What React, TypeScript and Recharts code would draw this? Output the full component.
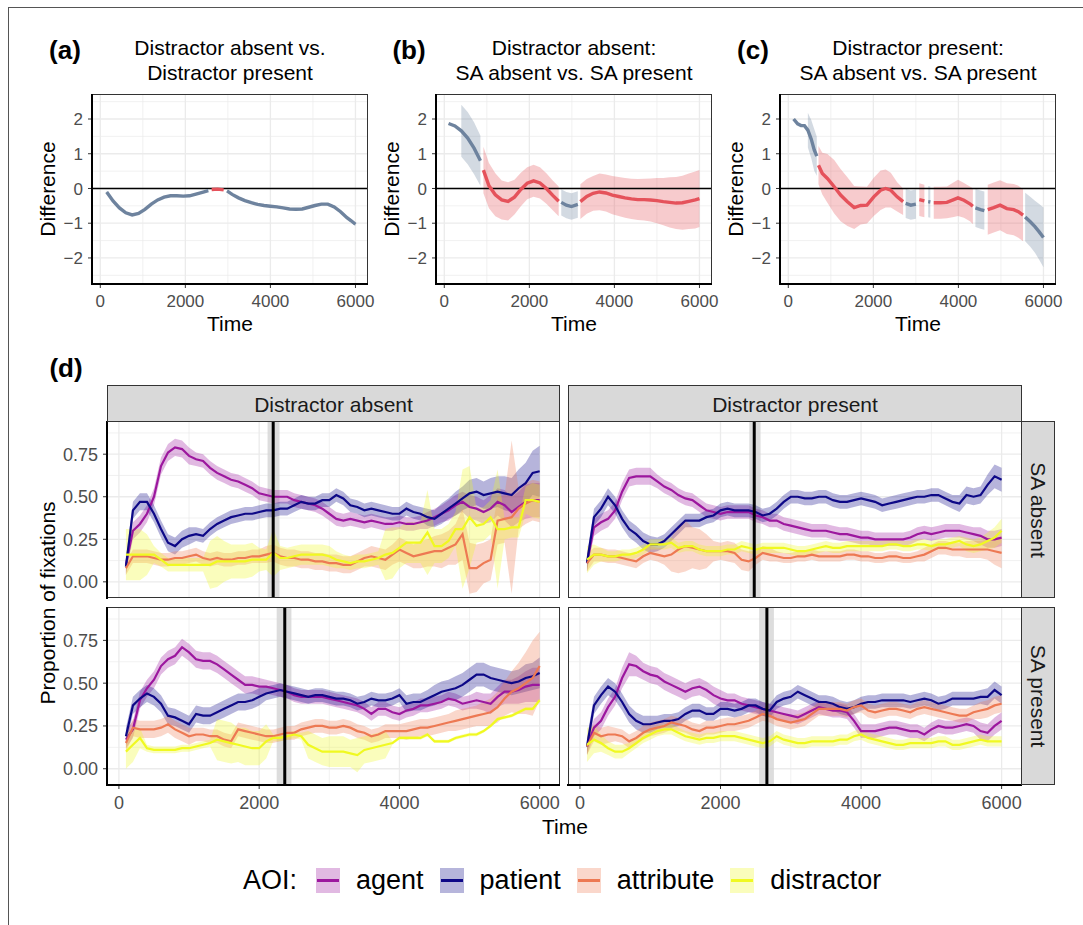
import {
  ComposedChart,
  Line,
  Area,
  XAxis,
  YAxis,
  CartesianGrid,
  ReferenceLine,
  ReferenceArea,
} from "recharts";

const FONT = '"Liberation Sans", Arial, Helvetica, sans-serif';

// ---- panels (a)-(c): smoothed difference curves ----
// sig = 1 where the difference is significant (drawn red)

const aTime = [150, 300, 450, 600, 750, 900, 1050, 1200, 1350, 1500, 1650, 1800, 1950, 2100, 2250, 2400, 2540, 2620, 2760, 2900, 2980, 3100, 3250, 3400, 3550, 3700, 3850, 4000, 4150, 4300, 4450, 4600, 4750, 4900, 5050, 5200, 5350, 5500, 5650, 5800, 5900, 6000];
const aMean = [-0.1, -0.36, -0.56, -0.7, -0.76, -0.72, -0.6, -0.45, -0.33, -0.25, -0.21, -0.21, -0.22, -0.21, -0.16, -0.11, -0.06, -0.03, -0.02, -0.04, -0.07, -0.17, -0.27, -0.35, -0.41, -0.46, -0.49, -0.51, -0.53, -0.56, -0.59, -0.6, -0.59, -0.54, -0.49, -0.45, -0.45, -0.53, -0.67, -0.84, -0.93, -1.03];
const aHalf = [0.04, 0.04, 0.04, 0.03, 0.03, 0.03, 0.03, 0.03, 0.03, 0.03, 0.03, 0.03, 0.03, 0.03, 0.03, 0.03, 0.03, 0.03, 0.03, 0.03, 0.03, 0.03, 0.03, 0.03, 0.03, 0.03, 0.03, 0.03, 0.03, 0.03, 0.03, 0.03, 0.03, 0.03, 0.03, 0.03, 0.03, 0.04, 0.04, 0.04, 0.05, 0.05];
const aSig = [0, 0, 0, 0, 0, 0, 0, 0, 0, 0, 0, 0, 0, 0, 0, 0, 0, 1, 1, 1, 0, 0, 0, 0, 0, 0, 0, 0, 0, 0, 0, 0, 0, 0, 0, 0, 0, 0, 0, 0, 0, 0];

const bTime = [100, 250, 400, 550, 700, 850, 920, 1050, 1200, 1350, 1500, 1650, 1800, 1950, 2100, 2250, 2400, 2550, 2690, 2750, 2870, 2990, 3140, 3200, 3350, 3500, 3650, 3800, 3950, 4100, 4250, 4400, 4550, 4700, 4850, 5000, 5150, 5300, 5450, 5600, 5750, 5900, 6000];
const bMean = [1.87, 1.8, 1.66, 1.45, 1.16, 0.8, 0.53, 0.08, -0.18, -0.33, -0.37, -0.25, -0.03, 0.15, 0.22, 0.16, 0.0, -0.2, -0.37, -0.4, -0.48, -0.52, -0.46, -0.38, -0.23, -0.14, -0.1, -0.13, -0.19, -0.23, -0.27, -0.3, -0.32, -0.32, -0.33, -0.35, -0.38, -0.4, -0.42, -0.41, -0.37, -0.33, -0.29];
const bHalf = [null, null, 0.75, 0.75, 0.75, 0.72, 0.67, 0.65, 0.62, 0.56, 0.55, 0.5, 0.48, 0.46, 0.46, 0.45, 0.44, 0.43, 0.43, 0.38, 0.38, 0.38, 0.38, 0.5, 0.5, 0.5, 0.53, 0.53, 0.55, 0.56, 0.57, 0.58, 0.59, 0.6, 0.62, 0.65, 0.68, 0.72, 0.75, 0.78, 0.8, 0.82, 0.82];
const bSig = [0, 0, 0, 0, 0, 0, 1, 1, 1, 1, 1, 1, 1, 1, 1, 1, 1, 1, 1, 0, 0, 0, 0, 1, 1, 1, 1, 1, 1, 1, 1, 1, 1, 1, 1, 1, 1, 1, 1, 1, 1, 1, 1];

const cTime = [125, 220, 300, 380, 460, 540, 610, 670, 710, 800, 920, 1080, 1230, 1390, 1550, 1700, 1850, 2010, 2170, 2290, 2410, 2560, 2700, 2760, 2880, 3000, 3080, 3200, 3290, 3340, 3420, 3580, 3730, 3890, 3990, 4130, 4280, 4340, 4400, 4520, 4610, 4690, 4830, 4980, 5140, 5300, 5410, 5520, 5570, 5690, 5800, 5900, 6000];
const cMean = [2.0, 1.86, 1.81, 1.81, 1.68, 1.42, 1.11, 0.93, 0.67, 0.43, 0.29, 0.05, -0.19, -0.38, -0.55, -0.49, -0.48, -0.24, -0.05, 0.0, -0.05, -0.24, -0.38, -0.43, -0.48, -0.45, -0.32, -0.36, -0.38, -0.39, -0.41, -0.41, -0.4, -0.32, -0.27, -0.34, -0.45, -0.51, -0.56, -0.61, -0.64, -0.61, -0.55, -0.48, -0.58, -0.61, -0.67, -0.77, -0.82, -0.96, -1.1, -1.25, -1.41];
const cHalf = [null, null, null, null, 0.5, 0.55, 0.6, 0.56, 0.55, 0.6, 0.7, 0.77, 0.75, 0.7, 0.62, 0.55, 0.53, 0.55, 0.57, 0.55, 0.5, 0.42, 0.38, 0.42, 0.42, 0.42, 0.47, 0.47, 0.45, 0.45, 0.46, 0.46, 0.46, 0.5, 0.52, 0.5, 0.5, 0.52, 0.55, 0.55, 0.55, 0.72, 0.72, 0.72, 0.73, 0.74, 0.75, 0.75, 0.7, 0.72, 0.75, 0.8, 0.86];
const cSig = [0, 0, 0, 0, 0, 0, 0, 0, 1, 1, 1, 1, 1, 1, 1, 1, 1, 1, 1, 1, 1, 1, 1, 0, 0, 0, 1, 1, 0, 0, 1, 1, 1, 1, 1, 1, 1, 1, 0, 0, 0, 1, 1, 1, 1, 1, 1, 1, 0, 0, 0, 0, 0];

// ---- panel (d): proportion of fixations, 100 ms bins ----
const TIME = Array.from({ length: 60 }, (_, i) => 100 + i * 100);
const AOI = ["agent", "patient", "attribute", "distractor"];
const AOI_COLORS = ["#9C179E", "#0D0887", "#ED7953", "#F0F921"];
const AOI_KEYS = ["#E1B9E2", "#B6B5DB", "#FAD7CB", "#FAFDBC"];

// distractor absent, SA absent
const p11Agent = [0.1, 0.3, 0.34, 0.4, 0.5, 0.68, 0.76, 0.79, 0.78, 0.74, 0.72, 0.71, 0.67, 0.64, 0.62, 0.6, 0.59, 0.57, 0.55, 0.52, 0.51, 0.5, 0.5, 0.5, 0.48, 0.47, 0.46, 0.45, 0.43, 0.4, 0.37, 0.36, 0.37, 0.36, 0.35, 0.36, 0.35, 0.34, 0.34, 0.35, 0.34, 0.34, 0.35, 0.36, 0.38, 0.4, 0.42, 0.45, 0.47, 0.44, 0.43, 0.41, 0.43, 0.47, 0.45, 0.41, 0.44, 0.47, 0.48, 0.48];
const p11Patient = [0.09, 0.42, 0.47, 0.47, 0.4, 0.31, 0.23, 0.21, 0.25, 0.27, 0.28, 0.27, 0.31, 0.34, 0.36, 0.38, 0.39, 0.4, 0.4, 0.41, 0.42, 0.42, 0.43, 0.43, 0.45, 0.47, 0.46, 0.46, 0.48, 0.48, 0.51, 0.49, 0.45, 0.44, 0.42, 0.43, 0.42, 0.41, 0.4, 0.4, 0.43, 0.41, 0.4, 0.38, 0.37, 0.4, 0.43, 0.46, 0.49, 0.52, 0.53, 0.51, 0.52, 0.53, 0.52, 0.51, 0.55, 0.58, 0.64, 0.65];
const p11Attribute = [0.08, 0.15, 0.15, 0.15, 0.14, 0.13, 0.13, 0.14, 0.14, 0.15, 0.16, 0.14, 0.13, 0.14, 0.13, 0.13, 0.14, 0.14, 0.15, 0.15, 0.16, 0.17, 0.15, 0.14, 0.14, 0.13, 0.13, 0.12, 0.12, 0.11, 0.11, 0.1, 0.1, 0.12, 0.14, 0.15, 0.14, 0.13, 0.16, 0.19, 0.17, 0.15, 0.16, 0.17, 0.18, 0.18, 0.2, 0.22, 0.28, 0.08, 0.08, 0.11, 0.13, 0.36, 0.37, 0.38, 0.43, 0.46, 0.48, 0.47];
const p11Distractor = [0.16, 0.16, 0.16, 0.16, 0.16, 0.13, 0.1, 0.1, 0.1, 0.1, 0.1, 0.1, 0.1, 0.12, 0.12, 0.12, 0.12, 0.12, 0.13, 0.13, 0.13, 0.17, 0.14, 0.14, 0.15, 0.16, 0.16, 0.16, 0.16, 0.15, 0.13, 0.12, 0.11, 0.12, 0.12, 0.13, 0.14, 0.16, 0.17, 0.2, 0.23, 0.23, 0.23, 0.29, 0.21, 0.21, 0.24, 0.31, 0.31, 0.38, 0.33, 0.34, 0.38, 0.31, 0.31, 0.32, 0.32, 0.48, 0.48, 0.47];
const p11AgentSe = [0.05, 0.05, 0.05, 0.05, 0.05, 0.05, 0.05, 0.05, 0.05, 0.05, 0.04, 0.04, 0.04, 0.04, 0.04, 0.04, 0.04, 0.04, 0.04, 0.04, 0.04, 0.04, 0.04, 0.04, 0.04, 0.04, 0.04, 0.04, 0.04, 0.04, 0.04, 0.04, 0.04, 0.04, 0.04, 0.04, 0.04, 0.04, 0.04, 0.04, 0.04, 0.04, 0.04, 0.05, 0.05, 0.05, 0.06, 0.06, 0.06, 0.07, 0.07, 0.07, 0.08, 0.08, 0.09, 0.09, 0.09, 0.1, 0.1, 0.1];
const p11PatientSe = [0.05, 0.05, 0.05, 0.05, 0.05, 0.05, 0.05, 0.05, 0.05, 0.05, 0.04, 0.04, 0.04, 0.04, 0.04, 0.04, 0.04, 0.04, 0.04, 0.04, 0.04, 0.04, 0.04, 0.04, 0.04, 0.04, 0.04, 0.04, 0.04, 0.04, 0.04, 0.04, 0.04, 0.04, 0.04, 0.04, 0.04, 0.04, 0.04, 0.04, 0.04, 0.04, 0.04, 0.05, 0.05, 0.06, 0.06, 0.07, 0.07, 0.08, 0.08, 0.08, 0.09, 0.09, 0.1, 0.1, 0.11, 0.12, 0.13, 0.15];
const p11AttributeSe = [0.04, 0.04, 0.04, 0.04, 0.04, 0.04, 0.04, 0.04, 0.04, 0.04, 0.04, 0.04, 0.04, 0.04, 0.04, 0.04, 0.04, 0.04, 0.04, 0.04, 0.05, 0.05, 0.05, 0.05, 0.05, 0.05, 0.05, 0.05, 0.05, 0.05, 0.05, 0.05, 0.05, 0.05, 0.05, 0.06, 0.06, 0.06, 0.06, 0.07, 0.07, 0.07, 0.08, 0.08, 0.09, 0.1, 0.1, 0.12, 0.15, 0.15, 0.14, 0.12, 0.12, 0.14, 0.14, 0.45, 0.12, 0.12, 0.12, 0.12];
const p11DistractorSe = [0.15, 0.15, 0.15, 0.12, 0.05, 0.04, 0.04, 0.04, 0.04, 0.04, 0.04, 0.04, 0.14, 0.15, 0.12, 0.1, 0.1, 0.1, 0.1, 0.07, 0.06, 0.14, 0.07, 0.06, 0.06, 0.06, 0.06, 0.06, 0.06, 0.06, 0.05, 0.04, 0.04, 0.04, 0.04, 0.04, 0.04, 0.15, 0.15, 0.12, 0.12, 0.12, 0.12, 0.25, 0.1, 0.1, 0.1, 0.1, 0.35, 0.3, 0.1, 0.1, 0.1, 0.35, 0.06, 0.06, 0.06, 0.08, 0.1, 0.1];

// distractor present, SA absent
const p12Agent = [0.11, 0.32, 0.35, 0.37, 0.42, 0.53, 0.61, 0.62, 0.62, 0.62, 0.59, 0.56, 0.54, 0.51, 0.49, 0.48, 0.45, 0.42, 0.41, 0.4, 0.41, 0.41, 0.41, 0.41, 0.39, 0.38, 0.36, 0.36, 0.34, 0.33, 0.32, 0.31, 0.3, 0.3, 0.3, 0.29, 0.28, 0.28, 0.27, 0.26, 0.26, 0.25, 0.25, 0.25, 0.25, 0.25, 0.26, 0.28, 0.29, 0.28, 0.29, 0.3, 0.3, 0.3, 0.29, 0.28, 0.27, 0.25, 0.25, 0.26];
const p12Patient = [0.11, 0.38, 0.43, 0.5, 0.45, 0.37, 0.31, 0.28, 0.24, 0.22, 0.22, 0.24, 0.28, 0.32, 0.36, 0.36, 0.36, 0.38, 0.39, 0.42, 0.43, 0.42, 0.42, 0.42, 0.41, 0.39, 0.4, 0.43, 0.47, 0.5, 0.5, 0.49, 0.49, 0.5, 0.5, 0.48, 0.47, 0.47, 0.48, 0.49, 0.48, 0.47, 0.45, 0.46, 0.47, 0.48, 0.49, 0.5, 0.5, 0.51, 0.51, 0.49, 0.47, 0.46, 0.51, 0.5, 0.51, 0.57, 0.62, 0.6];
const p12Attribute = [0.11, 0.16, 0.16, 0.15, 0.15, 0.14, 0.13, 0.12, 0.15, 0.17, 0.16, 0.15, 0.16, 0.19, 0.21, 0.2, 0.19, 0.18, 0.18, 0.18, 0.18, 0.17, 0.13, 0.12, 0.14, 0.17, 0.16, 0.15, 0.14, 0.14, 0.15, 0.15, 0.16, 0.15, 0.15, 0.15, 0.15, 0.16, 0.16, 0.15, 0.15, 0.14, 0.14, 0.15, 0.15, 0.14, 0.14, 0.15, 0.16, 0.18, 0.2, 0.2, 0.19, 0.19, 0.19, 0.19, 0.19, 0.19, 0.18, 0.17];
const p12Distractor = [0.13, 0.16, 0.16, 0.15, 0.15, 0.16, 0.16, 0.17, 0.19, 0.22, 0.22, 0.22, 0.23, 0.2, 0.21, 0.21, 0.19, 0.18, 0.18, 0.18, 0.19, 0.19, 0.21, 0.2, 0.19, 0.2, 0.2, 0.2, 0.2, 0.19, 0.18, 0.18, 0.19, 0.2, 0.21, 0.2, 0.2, 0.21, 0.21, 0.21, 0.21, 0.21, 0.21, 0.22, 0.22, 0.21, 0.21, 0.22, 0.22, 0.21, 0.22, 0.22, 0.23, 0.24, 0.22, 0.21, 0.22, 0.24, 0.26, 0.3];
const p12AgentSe = [0.05, 0.05, 0.05, 0.05, 0.05, 0.05, 0.05, 0.05, 0.05, 0.05, 0.04, 0.04, 0.04, 0.04, 0.04, 0.04, 0.04, 0.04, 0.04, 0.04, 0.04, 0.04, 0.04, 0.04, 0.04, 0.04, 0.04, 0.04, 0.04, 0.04, 0.04, 0.04, 0.04, 0.04, 0.04, 0.04, 0.04, 0.04, 0.04, 0.04, 0.04, 0.04, 0.04, 0.04, 0.04, 0.04, 0.04, 0.04, 0.04, 0.04, 0.04, 0.04, 0.04, 0.04, 0.04, 0.04, 0.05, 0.05, 0.05, 0.05];
const p12PatientSe = [0.05, 0.05, 0.05, 0.05, 0.05, 0.05, 0.05, 0.05, 0.05, 0.05, 0.04, 0.04, 0.04, 0.04, 0.04, 0.04, 0.04, 0.04, 0.04, 0.04, 0.04, 0.04, 0.04, 0.04, 0.04, 0.04, 0.04, 0.04, 0.04, 0.04, 0.04, 0.04, 0.04, 0.04, 0.04, 0.04, 0.04, 0.04, 0.04, 0.04, 0.04, 0.04, 0.04, 0.04, 0.04, 0.04, 0.04, 0.04, 0.04, 0.04, 0.04, 0.04, 0.04, 0.05, 0.05, 0.05, 0.05, 0.06, 0.07, 0.07];
const p12AttributeSe = [0.05, 0.04, 0.04, 0.04, 0.04, 0.04, 0.04, 0.04, 0.04, 0.04, 0.04, 0.05, 0.1, 0.14, 0.15, 0.12, 0.12, 0.1, 0.06, 0.05, 0.06, 0.06, 0.06, 0.06, 0.04, 0.04, 0.04, 0.03, 0.03, 0.03, 0.03, 0.03, 0.03, 0.03, 0.03, 0.03, 0.03, 0.03, 0.03, 0.03, 0.03, 0.03, 0.03, 0.03, 0.03, 0.03, 0.03, 0.03, 0.04, 0.04, 0.04, 0.04, 0.04, 0.04, 0.05, 0.05, 0.05, 0.06, 0.08, 0.09];
const p12DistractorSe = [0.08, 0.06, 0.04, 0.03, 0.03, 0.03, 0.03, 0.03, 0.03, 0.03, 0.03, 0.03, 0.03, 0.03, 0.03, 0.03, 0.03, 0.03, 0.03, 0.03, 0.03, 0.03, 0.03, 0.03, 0.03, 0.03, 0.03, 0.03, 0.03, 0.03, 0.03, 0.03, 0.03, 0.03, 0.03, 0.03, 0.03, 0.03, 0.03, 0.03, 0.03, 0.03, 0.03, 0.03, 0.03, 0.03, 0.03, 0.03, 0.03, 0.03, 0.03, 0.03, 0.03, 0.03, 0.04, 0.04, 0.04, 0.05, 0.06, 0.07];

// distractor absent, SA present
const p21Agent = [0.17, 0.23, 0.4, 0.47, 0.52, 0.6, 0.64, 0.66, 0.71, 0.68, 0.64, 0.63, 0.63, 0.61, 0.58, 0.55, 0.52, 0.49, 0.49, 0.48, 0.48, 0.47, 0.46, 0.45, 0.43, 0.42, 0.42, 0.42, 0.42, 0.41, 0.4, 0.39, 0.38, 0.37, 0.35, 0.32, 0.35, 0.35, 0.33, 0.32, 0.34, 0.35, 0.37, 0.37, 0.38, 0.39, 0.41, 0.4, 0.38, 0.39, 0.4, 0.39, 0.38, 0.42, 0.45, 0.45, 0.46, 0.48, 0.49, 0.49];
const p21Patient = [0.19, 0.37, 0.41, 0.44, 0.42, 0.38, 0.31, 0.3, 0.28, 0.26, 0.32, 0.31, 0.31, 0.33, 0.35, 0.37, 0.39, 0.39, 0.4, 0.42, 0.44, 0.45, 0.46, 0.45, 0.44, 0.43, 0.42, 0.43, 0.43, 0.42, 0.41, 0.41, 0.4, 0.38, 0.39, 0.41, 0.4, 0.4, 0.41, 0.43, 0.38, 0.39, 0.39, 0.41, 0.43, 0.45, 0.46, 0.47, 0.49, 0.52, 0.55, 0.55, 0.53, 0.52, 0.51, 0.5, 0.51, 0.53, 0.54, 0.56];
const p21Attribute = [0.15, 0.24, 0.23, 0.23, 0.23, 0.24, 0.26, 0.23, 0.21, 0.19, 0.2, 0.2, 0.19, 0.19, 0.17, 0.16, 0.23, 0.22, 0.21, 0.2, 0.19, 0.19, 0.2, 0.21, 0.21, 0.23, 0.24, 0.25, 0.25, 0.24, 0.24, 0.25, 0.24, 0.22, 0.21, 0.19, 0.2, 0.22, 0.22, 0.22, 0.22, 0.23, 0.24, 0.24, 0.25, 0.26, 0.27, 0.28, 0.29, 0.3, 0.31, 0.32, 0.33, 0.36, 0.41, 0.45, 0.47, 0.5, 0.53, 0.6];
const p21Distractor = [0.1, 0.14, 0.18, 0.12, 0.11, 0.11, 0.11, 0.11, 0.12, 0.12, 0.13, 0.14, 0.15, 0.17, 0.16, 0.15, 0.14, 0.13, 0.12, 0.12, 0.16, 0.18, 0.18, 0.19, 0.2, 0.19, 0.14, 0.12, 0.1, 0.1, 0.1, 0.1, 0.09, 0.08, 0.11, 0.12, 0.13, 0.14, 0.15, 0.18, 0.18, 0.18, 0.18, 0.2, 0.16, 0.16, 0.16, 0.18, 0.19, 0.2, 0.2, 0.22, 0.25, 0.29, 0.3, 0.31, 0.33, 0.35, 0.35, 0.4];
const p21AgentSe = [0.05, 0.05, 0.05, 0.05, 0.05, 0.05, 0.05, 0.05, 0.05, 0.05, 0.05, 0.05, 0.05, 0.05, 0.05, 0.05, 0.05, 0.05, 0.05, 0.05, 0.04, 0.04, 0.04, 0.04, 0.04, 0.04, 0.04, 0.04, 0.04, 0.04, 0.04, 0.04, 0.04, 0.04, 0.04, 0.04, 0.04, 0.04, 0.04, 0.04, 0.04, 0.04, 0.04, 0.04, 0.04, 0.04, 0.04, 0.04, 0.04, 0.04, 0.05, 0.05, 0.06, 0.06, 0.07, 0.07, 0.08, 0.09, 0.1, 0.1];
const p21PatientSe = [0.05, 0.05, 0.05, 0.05, 0.05, 0.05, 0.05, 0.05, 0.05, 0.05, 0.05, 0.05, 0.05, 0.05, 0.05, 0.05, 0.05, 0.05, 0.05, 0.05, 0.04, 0.04, 0.04, 0.04, 0.04, 0.04, 0.04, 0.04, 0.04, 0.04, 0.04, 0.04, 0.04, 0.04, 0.04, 0.04, 0.04, 0.04, 0.04, 0.04, 0.05, 0.05, 0.05, 0.05, 0.06, 0.06, 0.06, 0.07, 0.07, 0.07, 0.07, 0.07, 0.07, 0.07, 0.07, 0.07, 0.07, 0.08, 0.08, 0.09];
const p21AttributeSe = [0.05, 0.05, 0.05, 0.05, 0.05, 0.05, 0.05, 0.05, 0.05, 0.05, 0.04, 0.04, 0.04, 0.04, 0.04, 0.04, 0.04, 0.04, 0.04, 0.04, 0.04, 0.04, 0.04, 0.04, 0.04, 0.04, 0.04, 0.04, 0.04, 0.04, 0.04, 0.04, 0.04, 0.04, 0.04, 0.04, 0.04, 0.04, 0.04, 0.04, 0.05, 0.05, 0.05, 0.05, 0.05, 0.05, 0.05, 0.06, 0.06, 0.06, 0.06, 0.07, 0.08, 0.09, 0.1, 0.12, 0.15, 0.18, 0.22, 0.2];
const p21DistractorSe = [0.1, 0.1, 0.06, 0.02, 0.02, 0.02, 0.02, 0.02, 0.02, 0.02, 0.02, 0.02, 0.02, 0.12, 0.12, 0.12, 0.1, 0.11, 0.1, 0.1, 0.1, 0.02, 0.02, 0.02, 0.02, 0.02, 0.08, 0.08, 0.08, 0.09, 0.09, 0.09, 0.08, 0.1, 0.08, 0.08, 0.08, 0.08, 0.01, 0.01, 0.01, 0.01, 0.01, 0.01, 0.01, 0.01, 0.01, 0.01, 0.01, 0.01, 0.01, 0.01, 0.01, 0.01, 0.01, 0.01, 0.01, 0.01, 0.01, 0.01];

// distractor present, SA present
const p22Agent = [0.13, 0.24, 0.28, 0.36, 0.42, 0.53, 0.61, 0.6, 0.57, 0.55, 0.54, 0.51, 0.49, 0.47, 0.45, 0.47, 0.48, 0.46, 0.43, 0.41, 0.4, 0.4, 0.38, 0.37, 0.36, 0.35, 0.34, 0.33, 0.32, 0.31, 0.3, 0.32, 0.34, 0.36, 0.35, 0.34, 0.34, 0.33, 0.28, 0.22, 0.22, 0.22, 0.23, 0.24, 0.24, 0.23, 0.22, 0.22, 0.2, 0.23, 0.25, 0.24, 0.24, 0.25, 0.26, 0.25, 0.22, 0.21, 0.25, 0.28];
const p22Patient = [0.13, 0.37, 0.43, 0.48, 0.45, 0.39, 0.32, 0.28, 0.26, 0.26, 0.27, 0.28, 0.28, 0.29, 0.32, 0.34, 0.34, 0.32, 0.32, 0.35, 0.35, 0.34, 0.35, 0.37, 0.37, 0.35, 0.34, 0.39, 0.41, 0.42, 0.45, 0.43, 0.41, 0.39, 0.39, 0.38, 0.36, 0.35, 0.36, 0.38, 0.39, 0.39, 0.4, 0.4, 0.4, 0.4, 0.39, 0.4, 0.41, 0.4, 0.38, 0.39, 0.41, 0.41, 0.41, 0.41, 0.42, 0.42, 0.46, 0.43];
const p22Attribute = [0.13, 0.21, 0.19, 0.2, 0.2, 0.19, 0.16, 0.18, 0.21, 0.23, 0.24, 0.25, 0.27, 0.26, 0.25, 0.23, 0.22, 0.24, 0.24, 0.25, 0.26, 0.26, 0.27, 0.28, 0.3, 0.32, 0.31, 0.29, 0.28, 0.27, 0.28, 0.29, 0.32, 0.35, 0.35, 0.35, 0.35, 0.34, 0.36, 0.37, 0.34, 0.33, 0.34, 0.35, 0.35, 0.34, 0.33, 0.35, 0.36, 0.35, 0.34, 0.33, 0.32, 0.31, 0.31, 0.33, 0.34, 0.35, 0.37, 0.38];
const p22Distractor = [0.14, 0.17, 0.15, 0.12, 0.1, 0.1, 0.12, 0.15, 0.18, 0.2, 0.22, 0.23, 0.23, 0.21, 0.19, 0.18, 0.17, 0.18, 0.18, 0.19, 0.19, 0.19, 0.18, 0.17, 0.16, 0.15, 0.16, 0.19, 0.17, 0.16, 0.15, 0.15, 0.16, 0.16, 0.16, 0.16, 0.17, 0.17, 0.19, 0.2, 0.18, 0.17, 0.16, 0.15, 0.14, 0.14, 0.15, 0.15, 0.15, 0.15, 0.16, 0.16, 0.14, 0.14, 0.15, 0.16, 0.17, 0.16, 0.16, 0.16];
const p22AgentSe = [0.05, 0.05, 0.05, 0.05, 0.05, 0.06, 0.07, 0.06, 0.05, 0.05, 0.05, 0.05, 0.05, 0.05, 0.05, 0.05, 0.05, 0.05, 0.05, 0.05, 0.04, 0.04, 0.04, 0.04, 0.04, 0.04, 0.04, 0.04, 0.04, 0.04, 0.04, 0.04, 0.04, 0.04, 0.04, 0.04, 0.04, 0.04, 0.04, 0.04, 0.04, 0.04, 0.04, 0.04, 0.04, 0.04, 0.04, 0.04, 0.04, 0.04, 0.04, 0.04, 0.04, 0.04, 0.04, 0.04, 0.05, 0.05, 0.05, 0.05];
const p22PatientSe = [0.05, 0.05, 0.05, 0.05, 0.05, 0.05, 0.05, 0.05, 0.05, 0.05, 0.04, 0.04, 0.04, 0.04, 0.04, 0.04, 0.04, 0.04, 0.04, 0.04, 0.04, 0.04, 0.04, 0.04, 0.04, 0.04, 0.04, 0.04, 0.04, 0.04, 0.04, 0.04, 0.04, 0.04, 0.04, 0.04, 0.04, 0.04, 0.04, 0.04, 0.04, 0.04, 0.04, 0.04, 0.04, 0.04, 0.04, 0.04, 0.04, 0.04, 0.04, 0.04, 0.04, 0.04, 0.04, 0.04, 0.04, 0.05, 0.05, 0.05];
const p22AttributeSe = [0.05, 0.05, 0.05, 0.05, 0.04, 0.04, 0.04, 0.04, 0.04, 0.04, 0.04, 0.04, 0.04, 0.04, 0.04, 0.04, 0.04, 0.04, 0.04, 0.04, 0.04, 0.04, 0.04, 0.04, 0.04, 0.04, 0.04, 0.04, 0.04, 0.04, 0.04, 0.04, 0.04, 0.04, 0.04, 0.04, 0.04, 0.04, 0.04, 0.04, 0.04, 0.04, 0.04, 0.04, 0.04, 0.04, 0.04, 0.04, 0.04, 0.04, 0.04, 0.04, 0.04, 0.04, 0.04, 0.04, 0.05, 0.05, 0.05, 0.05];
const p22DistractorSe = [0.1, 0.08, 0.05, 0.04, 0.04, 0.04, 0.03, 0.03, 0.03, 0.03, 0.03, 0.03, 0.03, 0.03, 0.03, 0.03, 0.03, 0.03, 0.03, 0.03, 0.03, 0.03, 0.03, 0.03, 0.03, 0.03, 0.03, 0.03, 0.03, 0.03, 0.03, 0.03, 0.03, 0.03, 0.03, 0.03, 0.03, 0.03, 0.03, 0.03, 0.03, 0.03, 0.03, 0.03, 0.03, 0.03, 0.03, 0.03, 0.03, 0.03, 0.03, 0.03, 0.03, 0.03, 0.03, 0.03, 0.03, 0.03, 0.03, 0.03];

// estimated disambiguation point (mean, with range)
const CUTOFF = [2200, 2480, 2365, 2660];
const CUTOFF_LO = [2120, 2410, 2250, 2550];
const CUTOFF_HI = [2290, 2570, 2460, 2760];

const DIFF_X: [number, number] = [-195, 6295];
const DIFF_Y: [number, number] = [-2.75, 2.72];
const FAC_X: [number, number] = [-170, 6290];
const FAC_Y: [number, number] = [-0.095, 0.945];

const RED = "#E5525B";
const SLATE = "#6E839E";

type Plot = { x: number; y: number; w: number; h: number };

const minus = (v: number) => (v < 0 ? `\u2212${-v}` : `${v}`);

const diffRows = (time: number[], mean: number[], half: (number | null)[], sig: number[]) =>
  time.map((t, i) => {
    const m = mean[i];
    const h = half[i];
    const band = h == null ? null : [m - h, m + h];
    return {
      t,
      red: sig[i] ? m : null,
      blue: sig[i] ? null : m,
      redBand: sig[i] ? band : null,
      blueBand: sig[i] ? null : band,
    };
  });

const facetRows = (means: number[][], ses: number[][]) =>
  TIME.map((t, i) => {
    const row: Record<string, any> = { t };
    AOI.forEach((name, k) => {
      row[name] = means[k][i];
      row[name + "Band"] = [means[k][i] - ses[k][i], means[k][i] + ses[k][i]];
    });
    return row;
  });

const Txt = ({ x, y, size, children, bold = false, rotate = 0, color = "#000" }: any) => (
  <div
    style={{
      position: "absolute",
      left: x,
      top: y,
      transform: `translate(-50%, -50%)${rotate ? ` rotate(${rotate}deg)` : ""}`,
      fontSize: size,
      fontWeight: bold ? 700 : 400,
      color,
      lineHeight: 1,
      whiteSpace: "nowrap",
      fontFamily: FONT,
    }}
  >
    {children}
  </div>
);

// panel frame: thin gray border, thick black axis lines where axes are drawn
const Frame = ({ plot, left, bottom }: { plot: Plot; left: boolean; bottom: boolean }) => (
  <>
    <div
      style={{
        position: "absolute",
        left: plot.x,
        top: plot.y,
        width: plot.w,
        height: plot.h,
        border: "1px solid #333",
        boxSizing: "border-box",
      }}
    />
    {left && (
      <div style={{ position: "absolute", left: plot.x - 1, top: plot.y, width: 2.2, height: plot.h + 1, background: "#000" }} />
    )}
    {bottom && (
      <div style={{ position: "absolute", left: plot.x - 1, top: plot.y + plot.h - 1, width: plot.w + 1, height: 2.2, background: "#000" }} />
    )}
  </>
);

const tickStyle = (size: number) => ({ fill: "#4D4D4D", fontSize: size, fontFamily: FONT });

const DiffPanel = ({ plot, letter, title, data }: { plot: Plot; letter: string; title: string[]; data: any[] }) => {
  const YW = 45;
  const XH = 34;
  const MT = 4;
  const MR = 16;
  const cx = plot.x + plot.w / 2;
  return (
    <>
      <div style={{ position: "absolute", left: plot.x - YW, top: plot.y - MT }}>
        <ComposedChart
          width={plot.w + YW + MR}
          height={plot.h + XH + MT}
          data={data}
          margin={{ top: MT, right: MR, bottom: 0, left: 0 }}
        >
          <CartesianGrid
            stroke="#EBEBEB"
            strokeWidth={0.7}
            verticalValues={[1000, 3000, 5000]}
            horizontalValues={[-2.5, -1.5, -0.5, 0.5, 1.5, 2.5]}
          />
          <CartesianGrid
            stroke="#EBEBEB"
            strokeWidth={1.3}
            verticalValues={[0, 2000, 4000, 6000]}
            horizontalValues={[-2, -1, 0, 1, 2]}
          />
          <XAxis
            type="number"
            dataKey="t"
            domain={DIFF_X}
            allowDataOverflow
            ticks={[0, 2000, 4000, 6000]}
            interval={0}
            height={XH}
            axisLine={false}
            tickSize={4}
            tickMargin={7}
            tickLine={{ stroke: "#333" }}
            tick={tickStyle(17)}
          />
          <YAxis
            type="number"
            domain={DIFF_Y}
            allowDataOverflow
            ticks={[-2, -1, 0, 1, 2]}
            interval={0}
            width={YW}
            axisLine={false}
            tickSize={4}
            tickMargin={5}
            tickLine={{ stroke: "#333" }}
            tick={tickStyle(17)}
            tickFormatter={minus}
          />
          <Area dataKey="blueBand" type="linear" stroke="none" fill={SLATE} fillOpacity={0.3} isAnimationActive={false} />
          <Area dataKey="redBand" type="linear" stroke="none" fill={RED} fillOpacity={0.3} isAnimationActive={false} />
          <ReferenceLine y={0} stroke="#000" strokeWidth={1.6} />
          <Line dataKey="blue" type="linear" stroke={SLATE} strokeWidth={3.4} dot={false} activeDot={false} isAnimationActive={false} />
          <Line dataKey="red" type="linear" stroke={RED} strokeWidth={3.4} dot={false} activeDot={false} isAnimationActive={false} />
        </ComposedChart>
      </div>
      <Frame plot={plot} left bottom />
      <Txt x={plot.x - 27} y={50} size={26} bold>
        {letter}
      </Txt>
      <Txt x={cx} y={47} size={21}>
        {title[0]}
      </Txt>
      <Txt x={cx} y={72} size={21}>
        {title[1]}
      </Txt>
      <Txt x={plot.x - 45} y={189} size={21} rotate={-90}>
        Difference
      </Txt>
      <Txt x={cx} y={323} size={21}>
        Time
      </Txt>
    </>
  );
};

const FacetPanel = ({
  plot,
  data,
  cut,
  showX,
  showY,
}: {
  plot: Plot;
  data: any[];
  cut: number;
  showX: boolean;
  showY: boolean;
}) => {
  const YW = 54;
  const XH = 34;
  const MT = 4;
  const MR = 16;
  const yw = showY ? YW : 0;
  const xh = showX ? XH : 0;
  return (
    <>
      <div style={{ position: "absolute", left: plot.x - yw, top: plot.y - MT }}>
        <ComposedChart
          width={plot.w + yw + MR}
          height={plot.h + xh + MT + (showX ? 0 : 4)}
          data={data}
          margin={{ top: MT, right: MR, bottom: showX ? 0 : 4, left: 0 }}
        >
          <CartesianGrid
            stroke="#EBEBEB"
            strokeWidth={0.7}
            verticalValues={[1000, 3000, 5000]}
            horizontalValues={[0.125, 0.375, 0.625, 0.875]}
          />
          <CartesianGrid
            stroke="#EBEBEB"
            strokeWidth={1.3}
            verticalValues={[0, 2000, 4000, 6000]}
            horizontalValues={[0, 0.25, 0.5, 0.75]}
          />
          <XAxis
            type="number"
            dataKey="t"
            domain={FAC_X}
            allowDataOverflow
            ticks={[0, 2000, 4000, 6000]}
            interval={0}
            hide={!showX}
            height={XH}
            axisLine={false}
            tickSize={4}
            tickMargin={7}
            tickLine={{ stroke: "#333" }}
            tick={tickStyle(18)}
          />
          <YAxis
            type="number"
            domain={FAC_Y}
            allowDataOverflow
            ticks={[0, 0.25, 0.5, 0.75]}
            interval={0}
            hide={!showY}
            width={YW}
            axisLine={false}
            tickSize={4}
            tickMargin={5}
            tickLine={{ stroke: "#333" }}
            tick={tickStyle(18)}
            tickFormatter={(v: number) => v.toFixed(2)}
          />
          <ReferenceArea x1={CUTOFF_LO[cut]} x2={CUTOFF_HI[cut]} fill="#D4D4D4" fillOpacity={0.8} stroke="none" />
          {AOI.map((name, k) => (
            <Area
              key={name + "Band"}
              dataKey={name + "Band"}
              type="linear"
              stroke="none"
              fill={AOI_COLORS[k]}
              fillOpacity={0.3}
              isAnimationActive={false}
            />
          ))}
          {AOI.map((name, k) => (
            <Line
              key={name}
              dataKey={name}
              type="linear"
              stroke={AOI_COLORS[k]}
              strokeWidth={2.2}
              dot={false}
              activeDot={false}
              isAnimationActive={false}
            />
          ))}
          <ReferenceLine x={CUTOFF[cut]} stroke="#000" strokeWidth={3} />
        </ComposedChart>
      </div>
      <Frame plot={plot} left={showY} bottom={showX} />
    </>
  );
};

const Strip = ({ x, y, w, h, label, vertical = false }: any) => (
  <div
    style={{
      position: "absolute",
      left: x,
      top: y,
      width: w,
      height: h,
      background: "#D9D9D9",
      border: "1px solid #333",
      boxSizing: "border-box",
    }}
  >
    <Txt x={w / 2 - 1} y={h / 2 - 1} size={21} rotate={vertical ? 90 : 0} color="#1A1A1A">
      {label}
    </Txt>
  </div>
);

const TOP_PLOTS: Plot[] = [
  { x: 92, y: 94, w: 276, h: 190 },
  { x: 436, y: 94, w: 276, h: 190 },
  { x: 780, y: 94, w: 276, h: 190 },
];

const FACET_PLOTS: Plot[] = [
  { x: 107, y: 421, w: 453, h: 177 },
  { x: 568, y: 421, w: 454, h: 177 },
  { x: 107, y: 607, w: 453, h: 178 },
  { x: 568, y: 607, w: 454, h: 178 },
];

const facetData = [
  facetRows([p11Agent, p11Patient, p11Attribute, p11Distractor], [p11AgentSe, p11PatientSe, p11AttributeSe, p11DistractorSe]),
  facetRows([p12Agent, p12Patient, p12Attribute, p12Distractor], [p12AgentSe, p12PatientSe, p12AttributeSe, p12DistractorSe]),
  facetRows([p21Agent, p21Patient, p21Attribute, p21Distractor], [p21AgentSe, p21PatientSe, p21AttributeSe, p21DistractorSe]),
  facetRows([p22Agent, p22Patient, p22Attribute, p22Distractor], [p22AgentSe, p22PatientSe, p22AttributeSe, p22DistractorSe]),
];

export default function App() {
  return (
    <div
      style={{
        position: "absolute",
        left: 0,
        top: 0,
        width: 1083,
        height: 925,
        background: "#fff",
        overflow: "hidden",
        fontFamily: FONT,
      }}
    >
      <div
        style={{
          position: "absolute",
          left: 8,
          top: 7,
          width: 1100,
          height: 940,
          borderTop: "1px solid #555",
          borderLeft: "1px solid #555",
        }}
      />

      <DiffPanel
        plot={TOP_PLOTS[0]}
        letter="(a)"
        title={["Distractor absent vs.", "Distractor present"]}
        data={diffRows(aTime, aMean, aHalf, aSig)}
      />
      <DiffPanel
        plot={TOP_PLOTS[1]}
        letter="(b)"
        title={["Distractor absent:", "SA absent vs. SA present"]}
        data={diffRows(bTime, bMean, bHalf, bSig)}
      />
      <DiffPanel
        plot={TOP_PLOTS[2]}
        letter="(c)"
        title={["Distractor present:", "SA absent vs. SA present"]}
        data={diffRows(cTime, cMean, cHalf, cSig)}
      />

      <Txt x={66} y={368} size={26} bold>
        (d)
      </Txt>

      {FACET_PLOTS.map((p, i) => (
        <FacetPanel key={i} plot={p} data={facetData[i]} cut={i} showX={i >= 2} showY={i % 2 === 0} />
      ))}

      <Strip x={107} y={385} w={453} h={37} label="Distractor absent" />
      <Strip x={568} y={385} w={454} h={37} label="Distractor present" />
      <Strip x={1021} y={421} w={34} h={177} label="SA absent" vertical />
      <Strip x={1021} y={607} w={34} h={178} label="SA present" vertical />

      <Txt x={47} y={603} size={21} rotate={-90}>
        Proportion of fixations
      </Txt>
      <Txt x={565} y={826} size={21}>
        Time
      </Txt>

      <div
        style={{
          position: "absolute",
          left: 243,
          top: 866,
          height: 28,
          display: "flex",
          alignItems: "center",
          fontSize: 27,
          fontFamily: FONT,
          color: "#000",
          whiteSpace: "nowrap",
        }}
      >
        <span style={{ marginRight: 19 }}>AOI:</span>
        {AOI.map((name, k) => (
          <div key={name} style={{ display: "flex", alignItems: "center" }}>
            <div
              style={{
                width: 24,
                height: 25,
                background: AOI_KEYS[k],
                position: "relative",
                marginRight: 16,
              }}
            >
              <div
                style={{
                  position: "absolute",
                  left: 1,
                  top: 11,
                  width: 22,
                  height: 3,
                  background: AOI_COLORS[k],
                }}
              />
            </div>
            <span style={{ marginRight: 16 }}>{name}</span>
          </div>
        ))}
      </div>
    </div>
  );
}
